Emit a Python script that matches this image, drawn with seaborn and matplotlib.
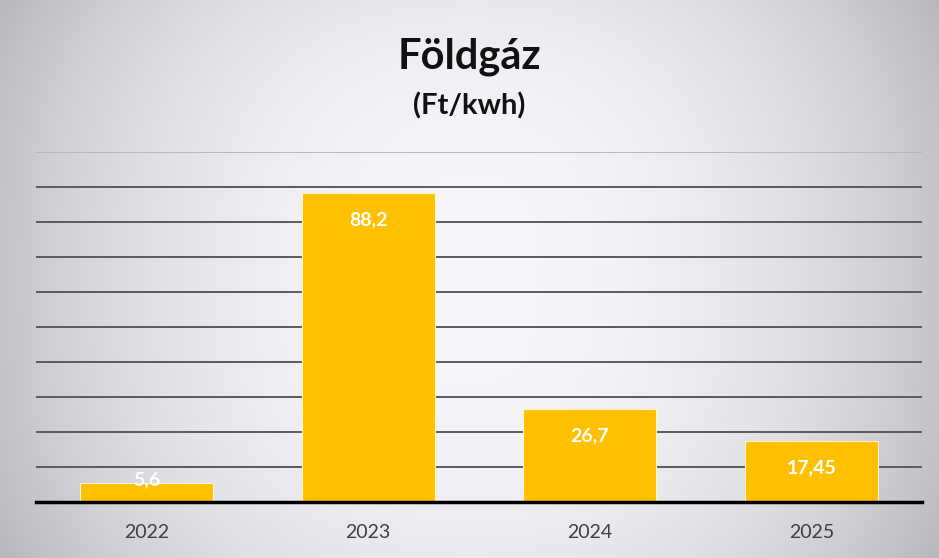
import numpy as np
import seaborn as sns
import matplotlib.pyplot as plt

# Földgáz ár (Ft/kWh)
years = ["2022", "2023", "2024", "2025"]
prices = [5.6, 88.2, 26.7, 17.45]
price_labels = ["5,6", "88,2", "26,7", "17,45"]

sns.set_style("white")
plt.rcParams["font.family"] = ["Lato", "DejaVu Sans"]

fig = plt.figure(figsize=(9.39, 5.58), dpi=100)

# scanned-paper look: light centre fading to grey edges
bg = fig.add_axes([0, 0, 1, 1], zorder=-10)
xx = np.linspace(-1, 1, 400)
yy = np.linspace(-1, 1, 240)
X, Y = np.meshgrid(xx, yy)
shade = 0.965 - 0.19 * np.abs(X) ** 2.2 - 0.05 * np.abs(Y) ** 3
rgb = np.dstack([shade - 0.005, shade - 0.005, shade + 0.015]).clip(0, 1)
bg.imshow(rgb, aspect="auto", extent=[0, 1, 0, 1])
bg.axis("off")

ax = fig.add_axes([0.038, 0.100, 0.944, 0.628])
ax.set_facecolor("none")
sns.barplot(x=years, y=prices, color="#FFC000", width=0.6, saturation=1, ax=ax,
            edgecolor="#fff4d0", linewidth=0.8, zorder=3)

ax.set_ylim(0, 100)
ax.set_xlim(-0.5, 3.5)
ax.set_yticks(np.arange(10, 101, 10))
ax.yaxis.grid(True, color="#5a5a5e", linewidth=1.4, zorder=0)
ax.get_ygridlines()[-1].set_color("#b8b8bc")
ax.set_yticklabels([])
ax.tick_params(axis="y", length=0)
ax.tick_params(axis="x", length=0, labelsize=14, labelcolor="#404040", pad=16)
sns.despine(ax=ax, left=True, top=True, right=True)
ax.spines["bottom"].set_linewidth(2.5)
ax.spines["bottom"].set_color("black")
ax.spines["bottom"].set_zorder(5)
ax.set_xlabel("")
ax.set_ylabel("")

for i, (v, lab) in enumerate(zip(prices, price_labels)):
    y = v - 7.7 if v > 10 else v + 0.8
    ax.text(i, y, lab, ha="center", va="center", color="white",
            fontsize=14, fontweight="bold", zorder=6)

fig.text(0.5, 0.898, "Földgáz", ha="center", va="center", fontsize=30,
         fontweight="bold", color="#111111")
fig.text(0.5, 0.810, "(Ft/kwh)", ha="center", va="center", fontsize=21,
         fontweight="bold", color="#111111")

fig.savefig("out.png", dpi=100)
